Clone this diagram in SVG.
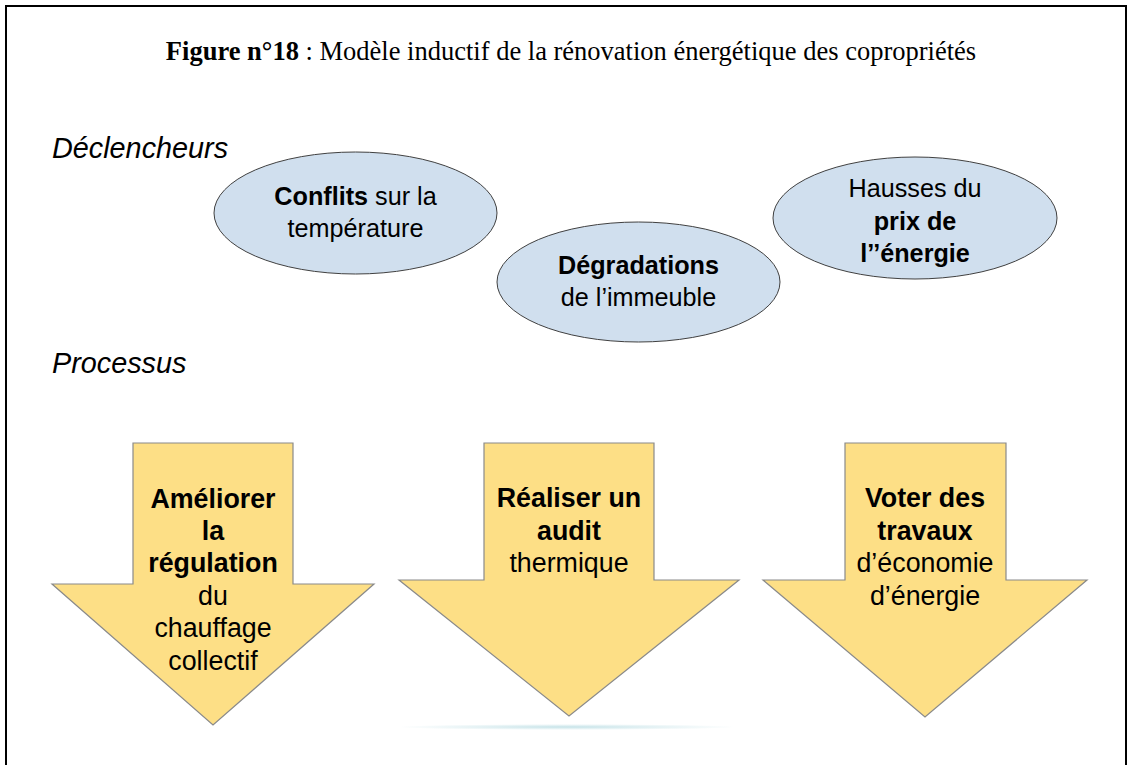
<svg xmlns="http://www.w3.org/2000/svg" width="1130" height="765" viewBox="0 0 1130 765">
<defs>
<style>
.ell{fill:#d0dfee;stroke:#404040;stroke-width:1}
.arr{fill:#fddf86;stroke:#8a8a8a;stroke-width:1.2}
.t{font-family:"Liberation Sans",Arial,sans-serif;fill:#000;text-anchor:middle}
.et{font-size:25.2px}
.at{font-size:26.8px}
.b{font-weight:bold}
.sec{font-family:"Liberation Sans",Arial,sans-serif;font-style:italic;font-size:28.8px;fill:#000}
</style>
<radialGradient id="sh" cx="0.5" cy="0.5" r="0.5">
<stop offset="0" stop-color="#c6e3e8"/>
<stop offset="1" stop-color="#c6e3e8" stop-opacity="0"/>
</radialGradient>
</defs>
<rect x="0" y="0" width="1130" height="765" fill="#fff"/>
<rect x="6" y="6" width="1120" height="820" fill="none" stroke="#000" stroke-width="2"/>
<text x="571" y="60" text-anchor="middle" font-family="'Liberation Serif','Times New Roman',serif" font-size="26.5px"><tspan font-weight="bold">Figure n°18</tspan> : Modèle inductif de la rénovation énergétique des copropriétés</text>
<text class="sec" x="52" y="158">Déclencheurs</text>
<text class="sec" x="52" y="373">Processus</text>
<g id="node-conflits">
<ellipse class="ell" cx="355.5" cy="213" rx="141.5" ry="61"/>
<text class="t et" x="355.5" y="205"><tspan class="b">Conflits</tspan> sur la</text>
<text class="t et" x="355.5" y="237">température</text>
</g>
<g id="node-degradations">
<ellipse class="ell" cx="638.5" cy="282" rx="141.5" ry="60"/>
<text class="t et b" x="638.5" y="274">Dégradations</text>
<text class="t et" x="638.5" y="306">de l’immeuble</text>
</g>
<g id="node-hausses">
<ellipse class="ell" cx="915" cy="218" rx="142" ry="61"/>
<text class="t et" x="915" y="197">Hausses du</text>
<text class="t et b" x="915" y="230">prix de</text>
<text class="t et b" x="915" y="262">l’’énergie</text>
</g>
<g id="connectors"></g>
<g id="node-ameliorer">
<polygon class="arr" points="133,443 293,443 293,584 374,584 213,725 52,584 133,584"/>
<text class="t at b" x="213" y="508">Améliorer</text>
<text class="t at b" x="213" y="540">la</text>
<text class="t at b" x="213" y="572">régulation</text>
<text class="t at" x="213" y="605">du</text>
<text class="t at" x="213" y="637">chauffage</text>
<text class="t at" x="213" y="670">collectif</text>
</g>
<g id="node-audit">
<ellipse cx="567" cy="727" rx="170" ry="3" fill="url(#sh)"/>
<polygon class="arr" points="484,443 654,443 654,580 739,580 569,716 399,580 484,580"/>
<text class="t at b" x="569" y="507">Réaliser un</text>
<text class="t at b" x="569" y="540">audit</text>
<text class="t at" x="569" y="572">thermique</text>
</g>
<g id="node-voter">
<polygon class="arr" points="845,443 1006,443 1006,580 1087,580 925,717 763,580 845,580"/>
<text class="t at b" x="925" y="507">Voter des</text>
<text class="t at b" x="925" y="540">travaux</text>
<text class="t at" x="925" y="572">d’économie</text>
<text class="t at" x="925" y="605">d’énergie</text>
</g>
</svg>
